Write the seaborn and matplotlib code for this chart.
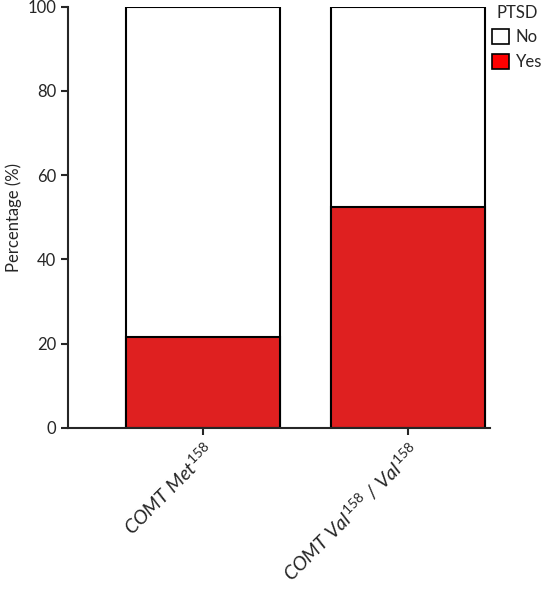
import matplotlib
matplotlib.use("Agg")
import matplotlib.pyplot as plt
import seaborn as sns
import pandas as pd
from matplotlib.patches import Patch

# Data
genotypes = [r"$COMT\ Met^{158}$", r"$COMT\ Val^{158}\ /\ Val^{158}$"]
ptsd_yes = [21.5, 52.5]
total = [100, 100]

sns.set_style("ticks")
plt.rcParams["font.family"] = ["Lato", "DejaVu Sans"]
plt.rcParams["mathtext.fontset"] = "custom"
plt.rcParams["mathtext.it"] = "Lato:italic"
plt.rcParams["mathtext.rm"] = "Lato"

df = pd.DataFrame({"genotype": genotypes, "yes": ptsd_yes, "total": total})

fig = plt.figure(figsize=(5.53, 6), dpi=100)
ax = fig.add_axes([0.123, 0.287, 0.763, 0.702])

sns.barplot(data=df, x="genotype", y="total", color="white", edgecolor="black",
            linewidth=1.5, width=0.75, ax=ax)
sns.barplot(data=df, x="genotype", y="yes", color="#ff0000", edgecolor="black",
            linewidth=1.5, width=0.75, ax=ax)

ax.set_xlim(-0.66, 1.4)
ax.set_ylim(0, 100)
ax.set_yticks([0, 20, 40, 60, 80, 100])
ax.set_xlabel("")
ax.set_ylabel("Percentage (%)", fontsize=12)
ax.tick_params(axis="y", labelsize=12, width=1.5, length=5)
ax.tick_params(axis="x", labelsize=14, width=1.5, length=5)
plt.setp(ax.get_xticklabels(), rotation=45, ha="right", rotation_mode="anchor")
for s in ["left", "bottom"]:
    ax.spines[s].set_linewidth(1.5)
sns.despine(ax=ax)

handles = [Patch(facecolor="white", edgecolor="black", linewidth=1.2, label="No"),
           Patch(facecolor="#ff0000", edgecolor="black", linewidth=1.2, label="Yes")]
leg = ax.legend(handles=handles, title="PTSD", loc="upper left",
                bbox_to_anchor=(0.99, 1.02), frameon=False, fontsize=12,
                title_fontsize=12, handlelength=1.0, handleheight=1.0,
                handletextpad=0.4, borderaxespad=0)

fig.savefig("out.png", dpi=100)
